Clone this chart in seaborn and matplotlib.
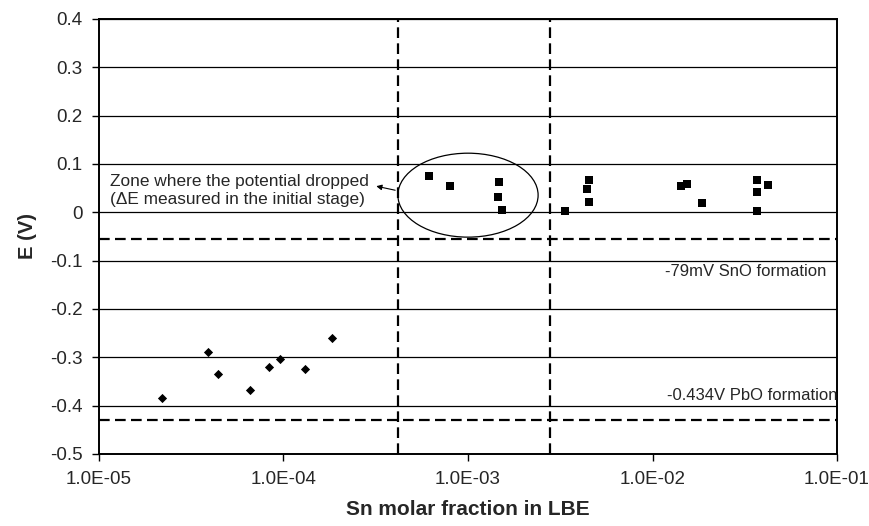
import numpy as np
import pandas as pd
import seaborn as sns
import matplotlib.pyplot as plt
from matplotlib.patches import Ellipse
from matplotlib.ticker import FixedLocator, FuncFormatter, NullLocator

# Sn-rich series (squares)
sn_x = [6.17e-4, 7.98e-4, 1.48e-3, 1.46e-3, 1.53e-3, 3.36e-3, 4.54e-3, 4.42e-3,
        4.53e-3, 1.43e-2, 1.54e-2, 1.86e-2, 3.70e-2, 3.70e-2, 4.21e-2, 3.70e-2]
sn_e = [0.075, 0.055, 0.062, 0.031, 0.005, 0.003, 0.066, 0.049,
        0.022, 0.055, 0.059, 0.019, 0.067, 0.043, 0.057, 0.003]

# low Sn series (diamonds)
low_x = [2.19e-5, 3.90e-5, 4.40e-5, 6.61e-5, 8.35e-5, 9.54e-5, 1.31e-4, 1.83e-4]
low_e = [-0.384, -0.288, -0.335, -0.367, -0.321, -0.304, -0.325, -0.260]

# reference lines
v_lines = [4.2e-4, 2.78e-3]
h_lines = [-0.055, -0.43]

x_ticks = [1e-5, 1e-4, 1e-3, 1e-2, 1e-1]
y_ticks = [0.4, 0.3, 0.2, 0.1, 0.0, -0.1, -0.2, -0.3, -0.4, -0.5]

sns.set_style("white")
plt.rcParams["font.family"] = ["Liberation Sans", "DejaVu Sans"]

fig = plt.figure(figsize=(8.69, 5.26), dpi=100)
ax = fig.add_axes([0.1139, 0.1369, 0.8493, 0.827])

df_sn = pd.DataFrame({"x": sn_x, "E": sn_e})
df_low = pd.DataFrame({"x": low_x, "E": low_e})
sns.scatterplot(data=df_sn, x="x", y="E", marker="s", s=26, color="black",
                edgecolor="black", linewidth=0, ax=ax, zorder=5)
sns.scatterplot(data=df_low, x="x", y="E", marker="D", s=22, color="black",
                edgecolor="black", linewidth=0, ax=ax, zorder=5)

ax.set_xscale("log")
ax.set_xlim(1e-5, 1e-1)
ax.set_ylim(-0.5, 0.4)

for yv in y_ticks:
    ax.axhline(yv, color="black", lw=0.9, zorder=1)
for xv in v_lines:
    ax.axvline(xv, color="black", lw=1.6, ls=(0, (4.8, 2.4)), zorder=2)
for yv in h_lines:
    ax.axhline(yv, color="black", lw=1.6, ls=(0, (4.8, 2.4)), zorder=2)

ax.xaxis.set_major_locator(FixedLocator(x_ticks))
ax.xaxis.set_minor_locator(NullLocator())
ax.xaxis.set_major_formatter(FuncFormatter(
    lambda v, p: "%.1fE-%02d" % (v / 10 ** np.floor(np.log10(v)), -np.floor(np.log10(v)))))
ax.set_yticks(y_ticks)
ax.yaxis.set_major_formatter(FuncFormatter(lambda v, p: "0" if abs(v) < 1e-9 else "%.1f" % v))

ax.tick_params(axis="both", direction="out", length=5, width=1, color="black",
               labelsize=13.5, bottom=True, left=True, pad=7)
for sp in ax.spines.values():
    sp.set_color("black")
    sp.set_linewidth(1.4)

ax.set_xlabel("Sn molar fraction in LBE", fontsize=15, fontweight="bold", labelpad=9)
ax.set_ylabel("E (V)", fontsize=14.5, fontweight="bold", labelpad=9)

ell = Ellipse((0.5, 0.595), 0.19, 0.193, transform=ax.transAxes,
              fill=False, edgecolor="black", lw=0.9, zorder=4)
ax.add_patch(ell)

ax.annotate("", xy=(0.372, 0.617), xycoords="axes fraction",
            xytext=(0.405, 0.605), textcoords="axes fraction",
            arrowprops=dict(arrowstyle="-|>", color="black", lw=0.8,
                            mutation_scale=8))
ax.text(0.015, 0.605, "Zone where the potential dropped\n(\u0394E measured in the initial stage)",
        transform=ax.transAxes, fontsize=12.4, va="center", ha="left",
        linespacing=1.25, zorder=6)

ax.text(0.986, -0.123, "-79mV SnO formation", transform=ax.get_yaxis_transform(),
        ha="right", va="center", fontsize=12)
ax.text(1.0, -0.378, "-0.434V PbO formation", transform=ax.get_yaxis_transform(),
        ha="right", va="center", fontsize=12)

fig.savefig("out.png", dpi=100)
